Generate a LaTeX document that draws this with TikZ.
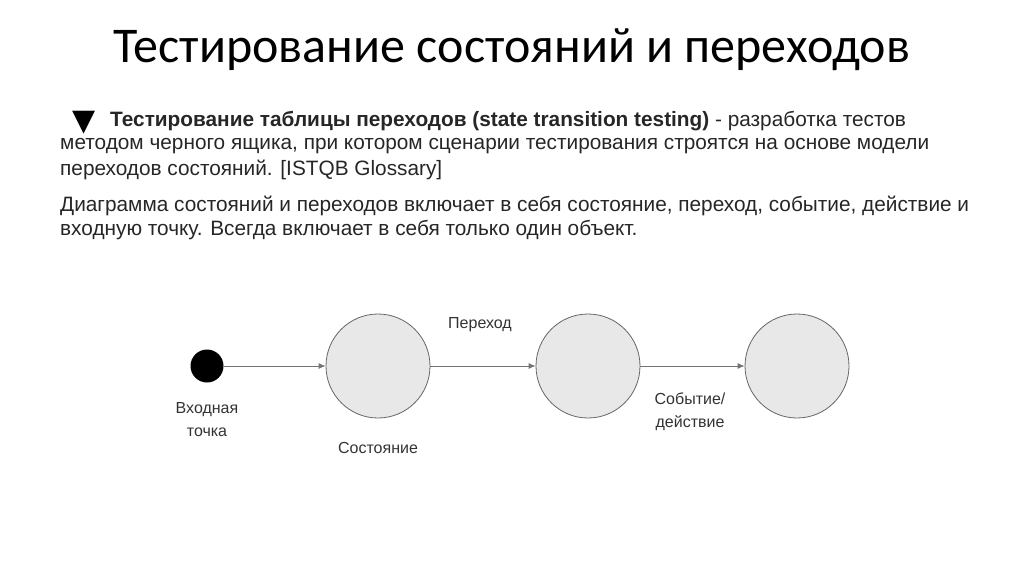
\documentclass[tikz,border=0pt]{standalone}
\usetikzlibrary{arrows.meta}
\usepackage{fontspec}
\setmainfont{Liberation Sans}
\newfontfamily\titlefont{Carlito}
\newfontfamily\symfont{DejaVu Sans}
\begin{document}
\begin{tikzpicture}[x=1pt,y=-1pt,
  txt/.style={anchor=west,inner sep=0pt,font=\fontsize{20.8}{24}\selectfont,text=black!85},
  lbl/.style={align=center,inner sep=0pt,font=\fontsize{16}{23}\selectfont,text=black!80},
  st/.style={circle,draw=black!60,fill=black!9,line width=0.8pt,minimum size=104pt,inner sep=0pt},
  arr/.style={draw=black!55,line width=0.8pt,-{Latex[length=7pt,width=6pt]}}]
\useasboundingbox (0,0) rectangle (1024,574);
\node[font=\titlefont\fontsize{50}{52}\selectfont] (title) at (512,50) {Тестирование состояний и переходов};
\node[font=\symfont\fontsize{30}{30}\selectfont,inner sep=0pt] (tri) at (84,123) {▼};
\node[txt] (l1) at (110,121) {\textbf{Тестирование таблицы переходов (state transition testing)} - разработка тестов};
\node[txt] (l2) at (60,146) {методом черного ящика, при котором сценарии тестирования строятся на основе модели};
\node[txt] (l3) at (60,170) {переходов состояний. [ISTQB Glossary]};
\node[txt] (l4) at (60,206) {Диаграмма состояний и переходов включает в себя состояние, переход, событие, действие и};
\node[txt] (l5) at (60,230) {входную точку. Всегда включает в себя только один объект.};
\node[circle,fill=black,minimum size=33pt,inner sep=0pt] (start) at (207,366) {};
\node[st] (s1) at (378,366) {};
\node[st] (s2) at (588,366) {};
\node[st] (s3) at (797,366) {};
\draw[arr] (start) -- (s1);
\draw[arr] (s1) -- (s2);
\draw[arr] (s2) -- (s3);
\node[lbl] (lstart) at (207,420) {Входная\\точка};
\node[lbl] (ls1) at (378,448) {Состояние};
\node[lbl] (lt) at (480,325) {Переход};
\node[lbl] (le) at (690,412) {Событие/\\действие};
\end{tikzpicture}
\end{document}
